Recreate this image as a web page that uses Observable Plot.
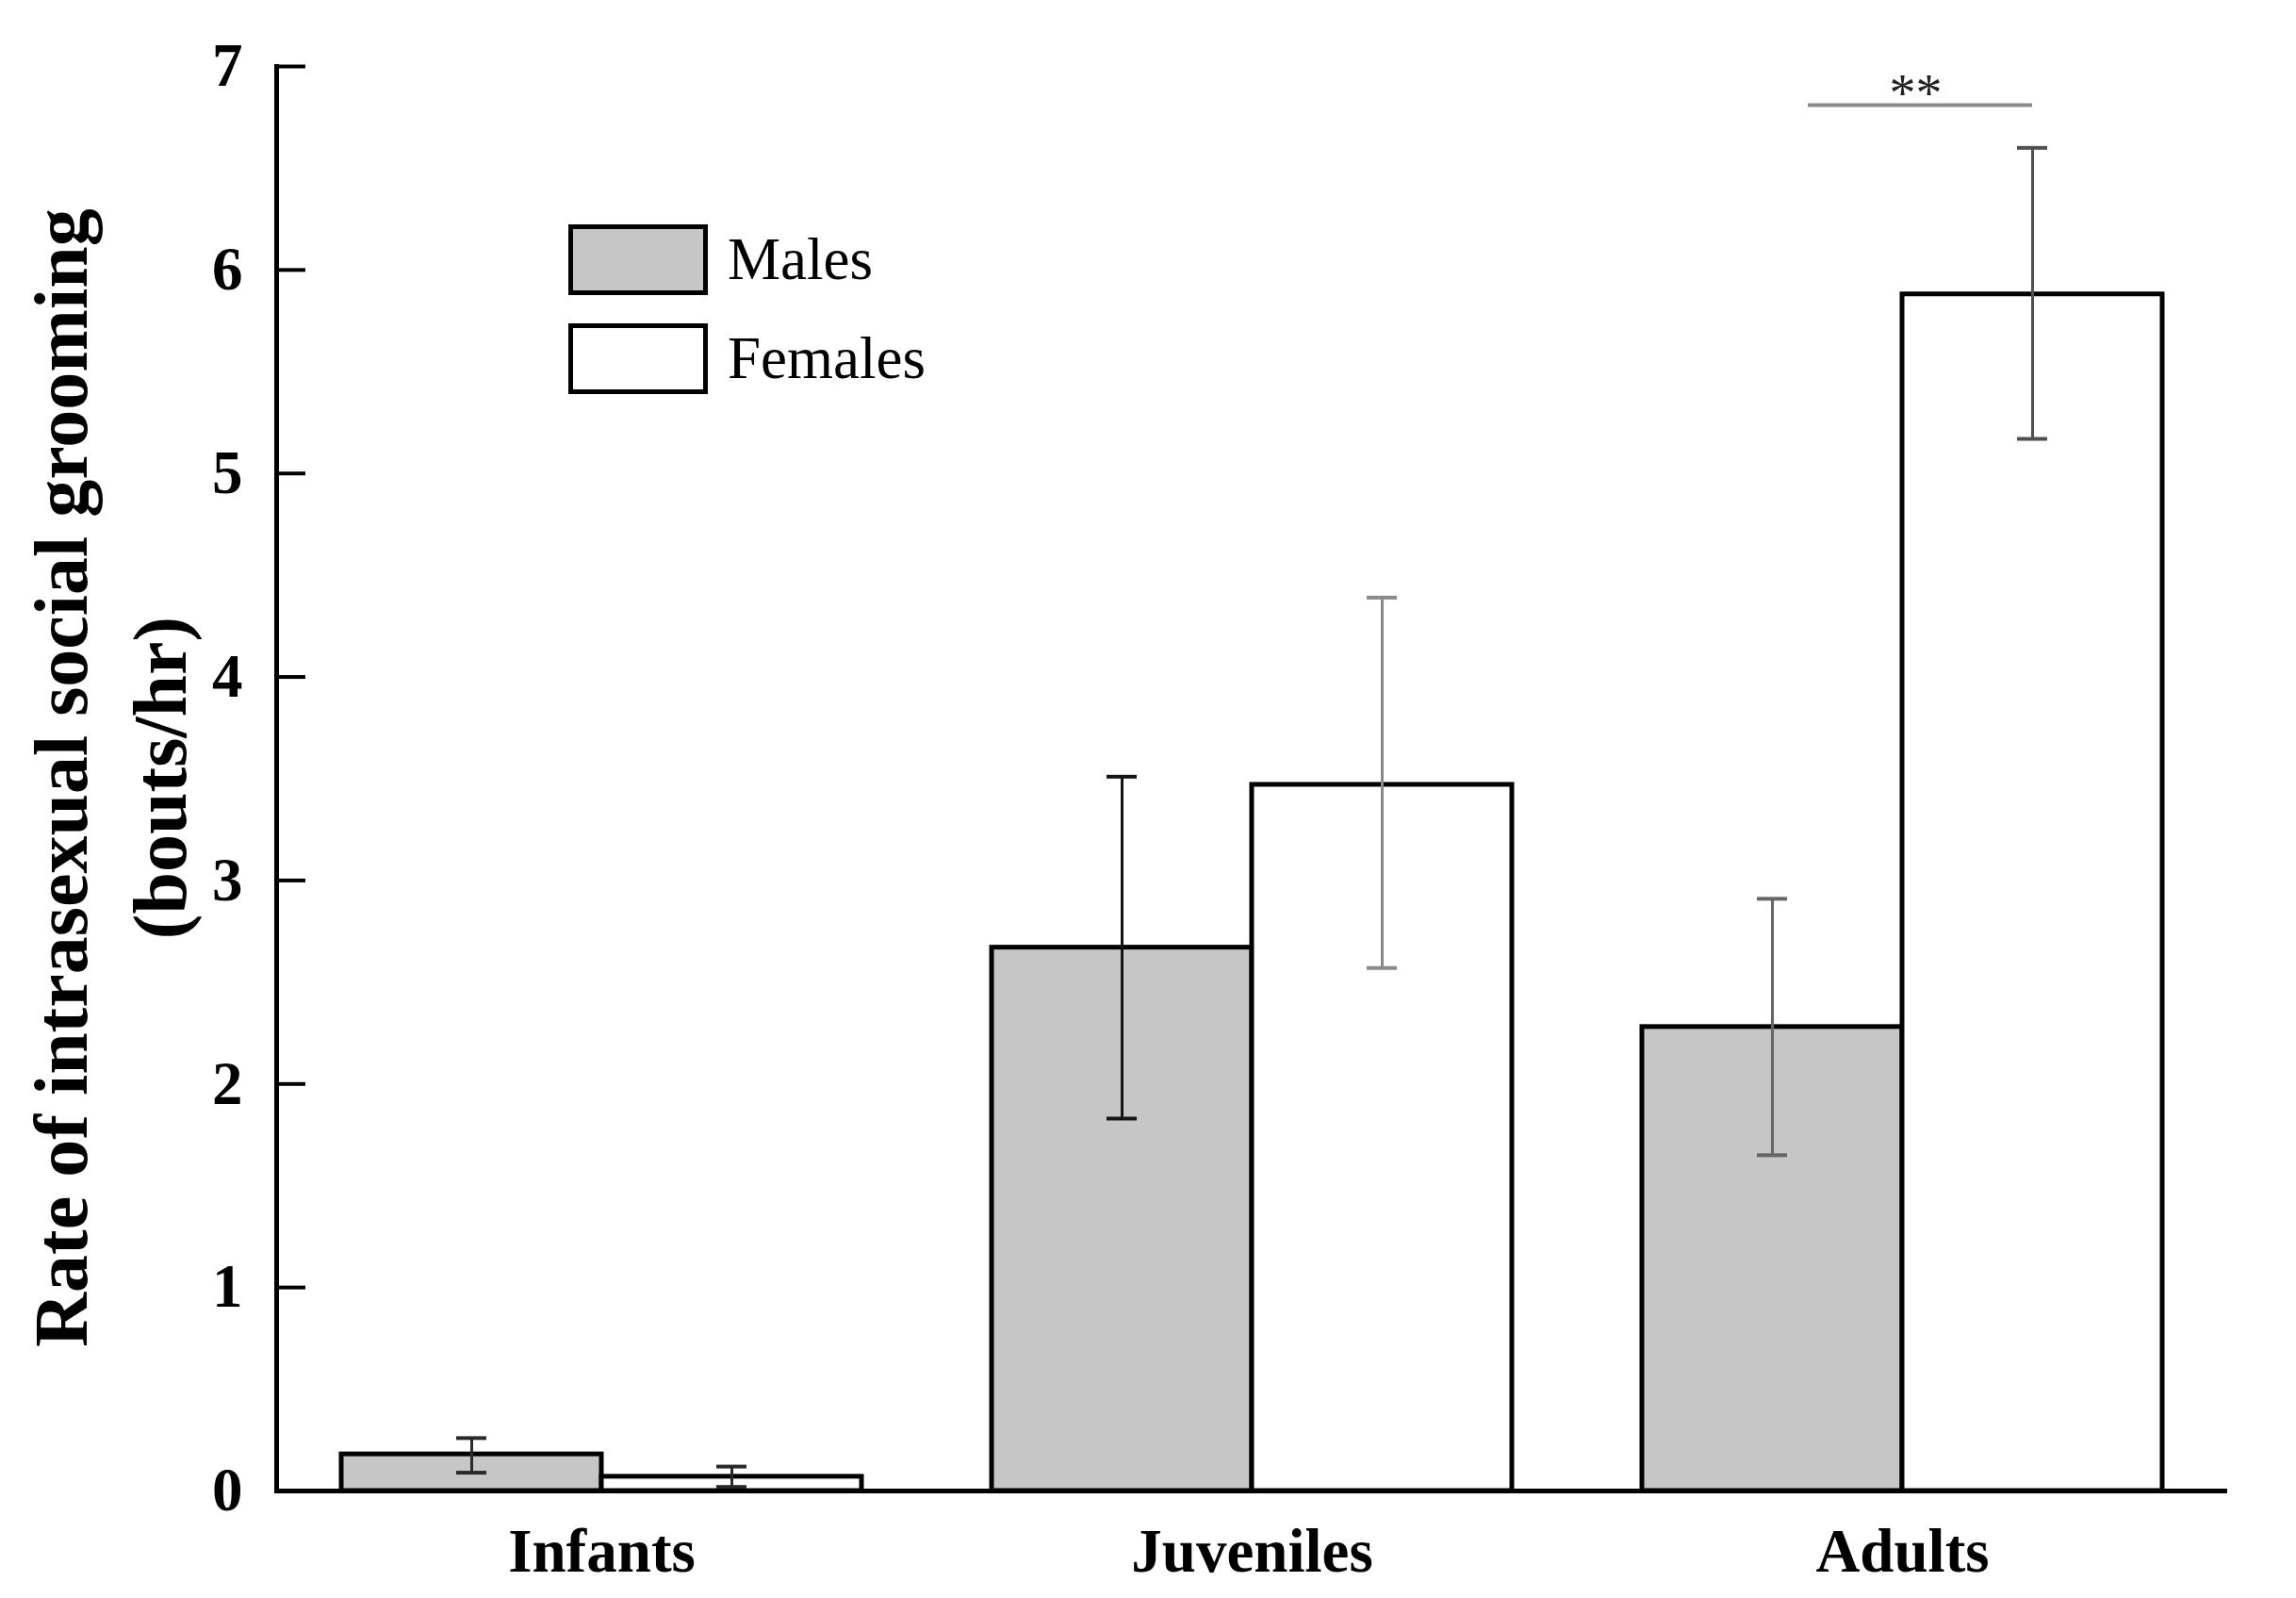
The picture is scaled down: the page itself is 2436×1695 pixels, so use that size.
<!DOCTYPE html>
<html>
<head>
<meta charset="utf-8">
<script src="https://cdn.jsdelivr.net/npm/d3@7"></script>
<script src="https://cdn.jsdelivr.net/npm/@observablehq/plot@0.6"></script>
<style>
  body { margin: 0; background: #fff; }
  #wrap { position: relative; width: 2436px; height: 1695px; background: #fff; }
  .ytitle { position: absolute; font-family: "Liberation Serif", "Times New Roman", serif; font-weight: bold;
            font-size: 80px; line-height: 80px; white-space: nowrap; color: #000;
            transform: translate(-50%, -50%) rotate(-90deg); }
  .sw { position: absolute; box-sizing: border-box; border: 5px solid #000; width: 148px; height: 75px; }
  .lt { position: absolute; font-family: "Liberation Serif", "Times New Roman", serif; font-size: 63px;
        line-height: 63px; white-space: nowrap; color: #000; }
</style>
</head>
<body>
<div id="wrap">
  <div id="chart"></div>
  <div class="ytitle" style="left:65px; top:825px;">Rate of intrasexual social grooming</div>
  <div class="ytitle" style="left:170px; top:825px;">(bouts/hr)</div>
  <div class="sw" style="left:603px; top:238px; background:#c6c6c6;"></div>
  <div class="lt" style="left:772px; top:244px;">Males</div>
  <div class="sw" style="left:603px; top:343px; background:#ffffff;"></div>
  <div class="lt" style="left:772px; top:349px;">Females</div>
</div>
<script>
// ---- data ----
const ages = ["Infants", "Juveniles", "Adults"];
const sexes = ["Males", "Females"];
const maleMean = [0.18, 2.67, 2.28];
const maleLow = [0.09, 1.83, 1.65];
const maleHigh = [0.26, 3.51, 2.91];
const femaleMean = [0.07, 3.47, 5.88];
const femaleLow = [0.02, 2.57, 5.17];
const femaleHigh = [0.12, 4.39, 6.60];
const maleErrColor = ["#2a2a2a", "#151515", "#666666"];
const femaleErrColor = ["#2a2a2a", "#8a8a8a", "#505050"];
const yTicks = [0, 1, 2, 3, 4, 5, 6, 7];
const sigAge = "Adults";
const sigFrom = "Males";
const sigTo = "Females";
const sigY = 6.81;
const sigLabel = "**";

const fills = {Males: "#c6c6c6", Females: "#ffffff"};

const rows = ages.flatMap((age, i) => [
  {age, sex: "Males", mean: maleMean[i], lo: maleLow[i], hi: maleHigh[i], err: maleErrColor[i]},
  {age, sex: "Females", mean: femaleMean[i], lo: femaleLow[i], hi: femaleHigh[i], err: femaleErrColor[i]}
]);
const sig = [{age: sigAge, from: sigFrom, to: sigTo, y: sigY, label: sigLabel}];

const chart = Plot.plot({
  width: 2436,
  height: 1695,
  marginLeft: 292,
  marginRight: 72,
  marginTop: 70,
  marginBottom: 114,
  style: {fontFamily: "'Liberation Serif', 'Times New Roman', serif", fontWeight: "bold", fontSize: "65px", color: "#000", background: "#fff"},
  fx: {domain: ages, padding: 0, label: null},
  x: {domain: sexes, paddingInner: 0, paddingOuter: 0.25, axis: null},
  y: {domain: [0, 7], label: null},
  marks: [
    Plot.barY(rows, {fx: "age", x: "sex", y: "mean", fill: d => fills[d.sex], stroke: "#000", strokeWidth: 5}),
    Plot.ruleX(rows, {fx: "age", x: "sex", y1: "lo", y2: "hi", stroke: "err", strokeWidth: 3}),
    Plot.tickY(rows, {fx: "age", x: "sex", y: "lo", stroke: "err", strokeWidth: 4, inset: 122}),
    Plot.tickY(rows, {fx: "age", x: "sex", y: "hi", stroke: "err", strokeWidth: 4, inset: 122}),
    Plot.ruleY([0], {stroke: "#000", strokeWidth: 5}),
    Plot.frame({anchor: "left", facetAnchor: "left", stroke: "#000", strokeWidth: 5}),
    Plot.ruleY(sig, {fx: "age", x1: "from", x2: "to", y: "y", stroke: "#8c8c8c", strokeWidth: 4, insetLeft: 176, insetRight: 138}),
    Plot.text(sig, {fx: "age", y: "y", text: "label", dx: 14, dy: -11, fontSize: 56, fontWeight: "normal", fill: "#222"}),
    Plot.axisY({ticks: yTicks, tickSize: -31, tickPadding: 67, strokeWidth: 4, tickFormat: d => String(d), label: null}),
    Plot.axisFx({anchor: "bottom", tickSize: 0, tickPadding: 39, label: null})
  ]
});
document.getElementById("chart").appendChild(chart);
</script>
</body>
</html>
